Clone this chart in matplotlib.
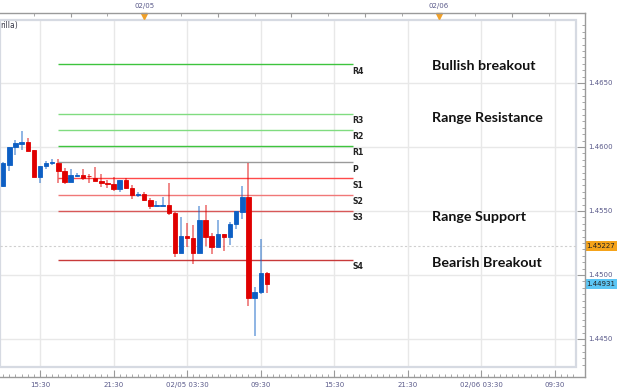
import matplotlib
matplotlib.use("Agg")
import matplotlib.pyplot as plt
import matplotlib.dates as mdates
import matplotlib.transforms as mtransforms
from matplotlib.lines import Line2D
from matplotlib.patches import Rectangle
from matplotlib.ticker import MultipleLocator, FixedLocator, FuncFormatter
import numpy as np
import pandas as pd

# ── 30-minute candles, 02/04 12:30 onwards ──
START = "2014-02-04 12:30"
opens = [1.45698, 1.45862, 1.45998, 1.46023, 1.46037, 1.45977, 1.45768, 1.45852, 1.45873, 1.45877,
         1.45815, 1.45729, 1.45776, 1.45781, 1.45773, 1.45755, 1.45737, 1.45721, 1.45709, 1.45672,
         1.45742, 1.45682, 1.45627, 1.45630, 1.45586, 1.45541, 1.45541, 1.45547, 1.45487, 1.45174,
         1.45305, 1.45291, 1.45174, 1.45430, 1.45305, 1.45216, 1.45320, 1.45295, 1.45398, 1.45495,
         1.45612, 1.44818, 1.44865, 1.45013]
closes = [1.45873, 1.45998, 1.46029, 1.46037, 1.45971, 1.45768, 1.45852, 1.45877, 1.45883, 1.45815,
          1.45729, 1.45781, 1.45779, 1.45755, 1.45770, 1.45737, 1.45716, 1.45709, 1.45670, 1.45742,
          1.45682, 1.45625, 1.45630, 1.45586, 1.45541, 1.45547, 1.45544, 1.45487, 1.45174, 1.45305,
          1.45287, 1.45174, 1.45430, 1.45299, 1.45216, 1.45320, 1.45295, 1.45398, 1.45500, 1.45612,
          1.44818, 1.44870, 1.45013, 1.44931]
highs = [1.45880, 1.46000, 1.46055, 1.46125, 1.46068, 1.45980, 1.45852, 1.45891, 1.45904, 1.45904,
         1.45834, 1.45828, 1.45799, 1.45830, 1.45789, 1.45846, 1.45787, 1.45742, 1.45768, 1.45742,
         1.45755, 1.45703, 1.45651, 1.45651, 1.45599, 1.45578, 1.45612, 1.45721, 1.45495, 1.45451,
         1.45409, 1.45391, 1.45539, 1.45547, 1.45326, 1.45430, 1.45320, 1.45414, 1.45500, 1.45695,
         1.45873, 1.44904, 1.45279, 1.45026]
lows = [1.45690, 1.45815, 1.45938, 1.45977, 1.45969, 1.45766, 1.45721, 1.45826, 1.45862, 1.45716,
        1.45709, 1.45729, 1.45763, 1.45742, 1.45716, 1.45737, 1.45690, 1.45677, 1.45659, 1.45651,
        1.45672, 1.45591, 1.45612, 1.45580, 1.45513, 1.45541, 1.45541, 1.45469, 1.45138, 1.45174,
        1.45221, 1.45084, 1.45174, 1.45227, 1.45164, 1.45216, 1.45190, 1.45234, 1.45357, 1.45435,
        1.44760, 1.44526, 1.44852, 1.44857]

# ── Pivot levels (drawn over one day) ──
pivot_names = ["R4", "R3", "R2", "R1", "P", "S1", "S2", "S3", "S4"]
pivot_levels = [1.46648, 1.46260, 1.46133, 1.46008, 1.45879, 1.45754, 1.45625, 1.45500, 1.45117]
PIVOT_FROM = "2014-02-04 17:00"
PIVOT_TO = "2014-02-05 17:00"

# ── Zone notes ──
note_texts = ["Bullish breakout", "Range Resistance", "Range Support", "Bearish Breakout"]
note_prices = [1.46633, 1.46227, 1.45455, 1.45096]

price_ticks = [1.4450, 1.4500, 1.4550, 1.4600, 1.4650]
bid_price = 1.45227
last_price = 1.44931

# ── Colours ──
UP = "#0D5FC4"
DOWN = "#E00000"
GRID = "#E8E8E8"
AXIS = "#9A9A9A"
TXT = "#5A5A8A"
pivot_colors = ["#3EC43E", "#80DC80", "#80DC80", "#3EC43E", "#9A9A9A",
                "#FF4A4A", "#F07878", "#D85858", "#C83A3A"]

W, H = 623, 392
fig = plt.figure(figsize=(W / 100, H / 100), dpi=100, facecolor="white")
ax = fig.add_axes([0, (H - 367) / H, 576 / W, 347 / H])
ax.set_facecolor("white")

x = mdates.date2num(pd.date_range(START, periods=len(opens), freq="30min").to_pydatetime())
o = np.array(opens); c = np.array(closes)
cols = [UP if cc >= oo else DOWN for oo, cc in zip(o, c)]

t0 = mdates.date2num(pd.Timestamp("2014-02-05").to_pydatetime())
hour = 1 / 24
ax.set_xlim(t0 - 11.76 * hour, t0 + 35.21 * hour)
ax.set_ylim(1.44281, 1.46992)

for sp in ax.spines.values():
    sp.set_visible(False)

# grid
bottom_major = mdates.date2num(pd.date_range("2014-02-04 15:30", "2014-02-06 09:30", freq="6h").to_pydatetime())
ax.xaxis.set_major_locator(FixedLocator(bottom_major))
ax.yaxis.set_major_locator(FixedLocator(price_ticks))
ax.tick_params(length=0, labelbottom=False, labelleft=False)
ax.grid(color=GRID, linewidth=1.0, zorder=0)
ax.set_axisbelow(True)

# frame of plot area
ax.add_patch(Rectangle((0, 0), 1, 1, transform=ax.transAxes, fill=False,
                       edgecolor="#D6DAE2", linewidth=1.6, clip_on=False, zorder=1))

# last-bid dotted line
ax.axhline(bid_price, color="#CFCFCF", linestyle=(0, (2, 2)), linewidth=0.8, zorder=1)

# pivot lines
p0 = mdates.date2num(pd.Timestamp(PIVOT_FROM).to_pydatetime())
p1 = mdates.date2num(pd.Timestamp(PIVOT_TO).to_pydatetime())
for name, lvl, col in zip(pivot_names, pivot_levels, pivot_colors):
    ax.hlines(lvl, p0, p1, color=col, linewidth=1.0, zorder=2)
    ax.annotate(name, xy=(p1, lvl), xytext=(0, -1.8), textcoords="offset points",
                ha="left", va="top", fontsize=5.6, fontweight="bold", color="#222222")

# candles
ax.vlines(x, lows, highs, colors=cols, linewidth=1.3, alpha=0.5, zorder=3)
body_lo = np.minimum(o, c)
body_h = np.abs(c - o)
ax.bar(x, body_h, bottom=body_lo, width=0.36 * hour, color=cols,
       edgecolor=cols, linewidth=0.6, zorder=4)

# zone notes
blend = mtransforms.blended_transform_factory(ax.transAxes, ax.transData)
for txt, yv in zip(note_texts, note_prices):
    ax.text(431.5 / 576, yv, txt, transform=blend, ha="left", va="center",
            fontsize=10.3, fontweight="bold", family=["Lato", "DejaVu Sans"], color="#111111")

ax.text(0.0, 1 - 5.7 / 347, "rilla)", transform=ax.transAxes, ha="left", va="center",
        fontsize=5.5, color="#3A3A4A")

# ── bottom axis ──
sb = ax.secondary_xaxis(-10 / 347)
sb.xaxis.set_major_locator(FixedLocator(bottom_major))
sb.xaxis.set_minor_locator(FixedLocator(mdates.date2num(
    pd.date_range("2014-02-04 12:00", "2014-02-06 11:00", freq="30min").to_pydatetime())))


def bottom_fmt(v, _):
    d = mdates.num2date(v)
    return d.strftime("%m/%d %H:%M") if d.hour == 3 else d.strftime("%H:%M")


sb.xaxis.set_major_formatter(FuncFormatter(bottom_fmt))
sb.tick_params(axis="x", which="major", direction="in", length=5, width=0.8, color=AXIS,
               labelsize=5, labelcolor=TXT, pad=3.5)
sb.tick_params(axis="x", which="minor", direction="in", length=2, width=0.6, color=AXIS)
for sp in sb.spines.values():
    sp.set_visible(False)

# ── top axis ──
st = ax.secondary_xaxis(1 + 7 / 347)
st.xaxis.set_major_locator(FixedLocator(mdates.date2num(
    pd.date_range("2014-02-04 12:00", "2014-02-06 12:00", freq="6h").to_pydatetime())))
st.xaxis.set_minor_locator(FixedLocator(mdates.date2num(
    pd.date_range("2014-02-04 12:00", "2014-02-06 12:00", freq="3h").to_pydatetime())))


def top_fmt(v, _):
    d = mdates.num2date(v)
    return d.strftime("%m/%d") if d.hour == 0 else ""


st.xaxis.set_major_formatter(FuncFormatter(top_fmt))
st.tick_params(axis="x", which="major", direction="in", length=3, width=0.8, color=AXIS,
               labelsize=5, labelcolor=TXT, pad=3)
st.tick_params(axis="x", which="minor", direction="in", length=2, width=0.6, color=AXIS)
for sp in st.spines.values():
    sp.set_visible(False)

day_marks = mdates.date2num(pd.to_datetime(["2014-02-05", "2014-02-06"]).to_pydatetime())
top_blend = mtransforms.blended_transform_factory(ax.transData, ax.transAxes)
ax.plot(day_marks, [1 + 3.8 / 347] * 2, linestyle="none", marker="v", markersize=4.5,
        color="#F0A028", transform=top_blend, clip_on=False, zorder=6)

# ── right axis ──
sr = ax.secondary_yaxis(1 + 8.5 / 576)
sr.yaxis.set_major_locator(FixedLocator(price_ticks))
sr.yaxis.set_minor_locator(MultipleLocator(0.0005))
sr.yaxis.set_major_formatter(FuncFormatter(lambda v, _: f"{v:.4f}"))
sr.tick_params(axis="y", which="major", direction="in", length=6, width=0.8, color=AXIS,
               labelsize=5, labelcolor=TXT, pad=2.5)
sr.tick_params(axis="y", which="minor", direction="in", length=2, width=0.6, color=AXIS)
for sp in sr.spines.values():
    sp.set_visible(False)

for price, face in [(bid_price, "#F5A31A"), (last_price, "#5CC6F5")]:
    ax.text(1 + 10.5 / 576, price, f"{price:.5f}", transform=blend, ha="left", va="center",
            fontsize=5, color="#222222", zorder=7,
            bbox=dict(boxstyle="square,pad=0.25", facecolor=face, edgecolor="none"))

# axis lines, extended to meet at the corners
for (xa, ya), (xb, yb) in [((0, 13), (584.5, 13)), ((0, 377), (584.5, 377)),
                           ((584.5, 13), (584.5, 377))]:
    fig.add_artist(Line2D([xa / W, xb / W], [1 - ya / H, 1 - yb / H],
                          color=AXIS, linewidth=1.0))

fig.savefig("out.png", dpi=100, facecolor="white")
